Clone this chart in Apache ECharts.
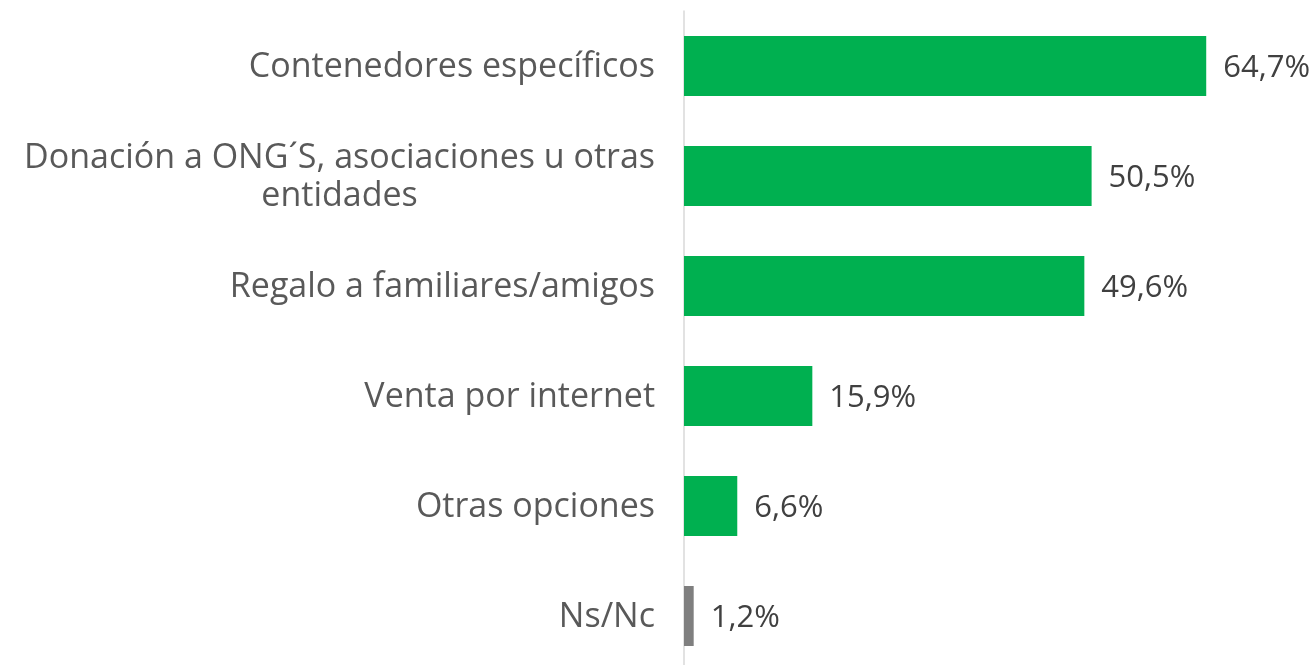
<!DOCTYPE html>
<html>
<head>
<meta charset="utf-8">
<script src="https://cdn.jsdelivr.net/npm/echarts@6/dist/echarts.min.js"></script>
<style>
  html, body { margin: 0; padding: 0; background: #fff; }
  #main { width: 1315px; height: 665px; }
</style>
</head>
<body>
<div id="main"></div>
<script>
// datos
var categorias = [
    'Contenedores específicos',
    'Donación a ONG´S, asociaciones u otras\nentidades',
    'Regalo a familiares/amigos',
    'Venta por internet',
    'Otras opciones',
    'Ns/Nc'
];
var valores = [64.7, 50.5, 49.6, 15.9, 6.6, 1.2];
var colores = ['#00B050', '#00B050', '#00B050', '#00B050', '#00B050', '#7F7F7F'];

var fuente = 'Open Sans';

var datosBarras = [];
for (var i = 0; i < valores.length; i++) {
    datosBarras.push({
        value: valores[i],
        itemStyle: { color: colores[i] }
    });
}

var myChart = echarts.init(document.getElementById('main'));
var option = {
    animation: false,
    textStyle: { fontFamily: fuente },
    grid: {
        left: 684,
        top: 11,
        width: 565,
        height: 660,
        outerBoundsMode: 'none'
    },
    xAxis: {
        type: 'value',
        min: 0,
        max: 70,
        show: false
    },
    yAxis: {
        type: 'category',
        inverse: true,
        data: categorias,
        axisTick: { show: false },
        axisLine: {
            show: true,
            lineStyle: { color: '#D9D9D9', width: 1.5 }
        },
        axisLabel: {
            margin: 29,
            formatter: function (v) {
                return v.split('\n').map(function (s) {
                    return '{c|' + s + '}';
                }).join('\n');
            },
            rich: {
                c: {
                    align: 'center',
                    fontFamily: fuente,
                    fontSize: 34,
                    lineHeight: 38,
                    padding: [3, 0, 0, 0],
                    color: '#595959'
                }
            }
        }
    },
    series: [{
        type: 'bar',
        barWidth: 60,
        data: datosBarras,
        label: {
            show: true,
            position: 'right',
            distance: 17,
            offset: [0, 2],
            fontFamily: fuente,
            fontSize: 31,
            color: '#404040',
            formatter: function (p) {
                return p.value.toFixed(1).replace('.', ',') + '%';
            }
        }
    }]
};
myChart.setOption(option);
</script>
</body>
</html>
